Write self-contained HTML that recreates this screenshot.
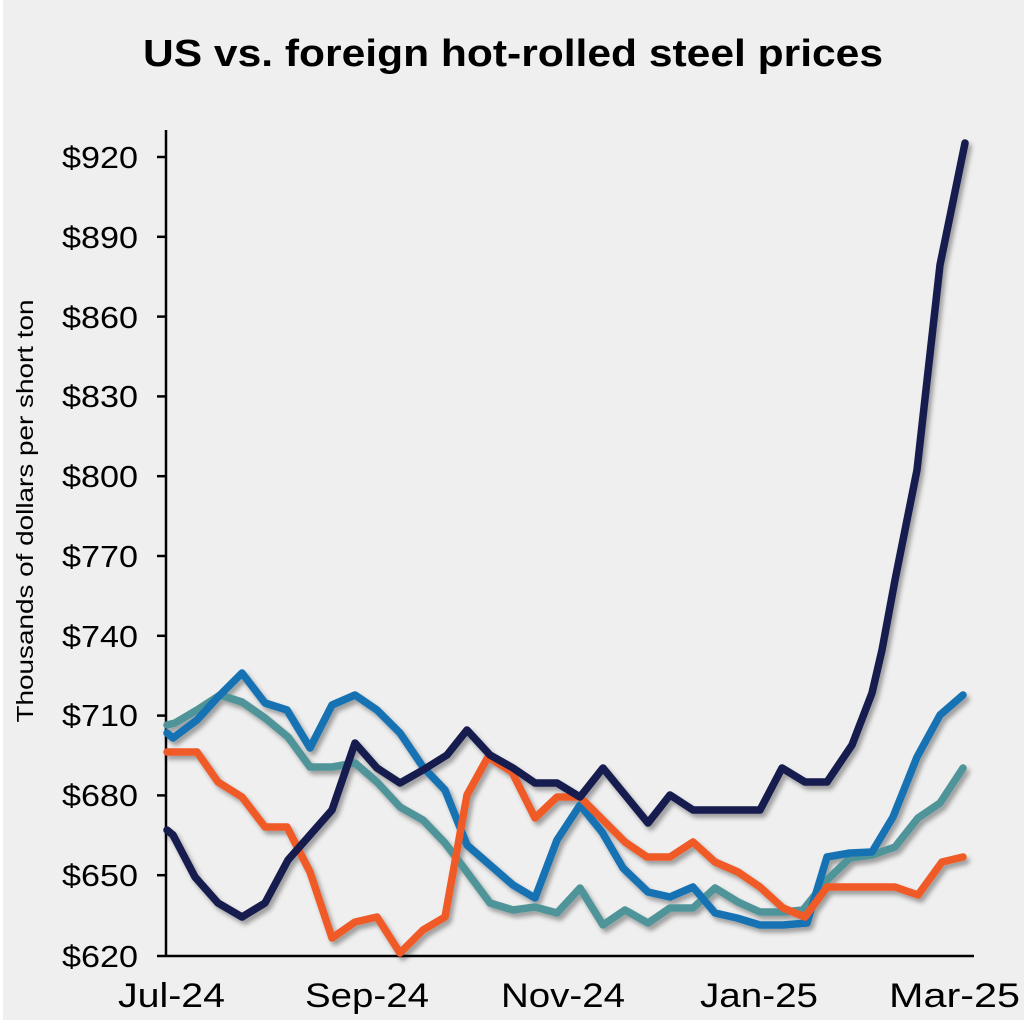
<!DOCTYPE html>
<html><head><meta charset="utf-8"><style>
html,body{margin:0;padding:0;background:#fff}
svg{display:block}
text{font-family:"Liberation Sans",Arial,sans-serif}
</style></head><body>
<svg width="1024" height="1024" viewBox="0 0 1024 1024">
<defs><filter id="sh" x="-10%" y="-10%" width="120%" height="120%"><feDropShadow dx="3" dy="4" stdDeviation="2.5" flood-color="#000" flood-opacity="0.35"/></filter></defs>
<rect x="3" y="0" width="1021" height="1020" fill="#efefef"/>
<text x="513" y="66" text-anchor="middle" font-size="38" font-weight="bold" fill="#000" textLength="740" lengthAdjust="spacingAndGlyphs">US vs. foreign hot-rolled steel prices</text>
<g stroke="#000" stroke-width="2.5">
<line x1="166" y1="130" x2="166" y2="956"/>
<line x1="157" y1="956" x2="974" y2="956"/>
<line x1="157" y1="157" x2="166" y2="157"/><line x1="157" y1="236.8" x2="166" y2="236.8"/>
<line x1="157" y1="316.6" x2="166" y2="316.6"/><line x1="157" y1="396.4" x2="166" y2="396.4"/>
<line x1="157" y1="476.2" x2="166" y2="476.2"/><line x1="157" y1="556" x2="166" y2="556"/>
<line x1="157" y1="635.8" x2="166" y2="635.8"/><line x1="157" y1="715.6" x2="166" y2="715.6"/>
<line x1="157" y1="795.4" x2="166" y2="795.4"/><line x1="157" y1="875.2" x2="166" y2="875.2"/>
</g>
<g font-size="31" text-anchor="end" fill="#000">
<text x="138" y="168" textLength="76" lengthAdjust="spacingAndGlyphs">$920</text>
<text x="138" y="248" textLength="76" lengthAdjust="spacingAndGlyphs">$890</text>
<text x="138" y="328" textLength="76" lengthAdjust="spacingAndGlyphs">$860</text>
<text x="138" y="407" textLength="76" lengthAdjust="spacingAndGlyphs">$830</text>
<text x="138" y="487" textLength="76" lengthAdjust="spacingAndGlyphs">$800</text>
<text x="138" y="567" textLength="76" lengthAdjust="spacingAndGlyphs">$770</text>
<text x="138" y="647" textLength="76" lengthAdjust="spacingAndGlyphs">$740</text>
<text x="138" y="726" textLength="76" lengthAdjust="spacingAndGlyphs">$710</text>
<text x="138" y="806" textLength="76" lengthAdjust="spacingAndGlyphs">$680</text>
<text x="138" y="886" textLength="76" lengthAdjust="spacingAndGlyphs">$650</text>
<text x="138" y="967" textLength="76" lengthAdjust="spacingAndGlyphs">$620</text>
</g>
<g font-size="34" fill="#000">
<text x="118" y="1007" textLength="107" lengthAdjust="spacingAndGlyphs">Jul-24</text>
<text x="305" y="1007" textLength="124" lengthAdjust="spacingAndGlyphs">Sep-24</text>
<text x="501" y="1007" textLength="124" lengthAdjust="spacingAndGlyphs">Nov-24</text>
<text x="700" y="1007" textLength="118" lengthAdjust="spacingAndGlyphs">Jan-25</text>
<text x="889" y="1007" textLength="131" lengthAdjust="spacingAndGlyphs">Mar-25</text>
</g>
<text transform="translate(33,511) rotate(-90)" text-anchor="middle" font-size="23" fill="#000" textLength="423" lengthAdjust="spacingAndGlyphs">Thousands of dollars per short ton</text>
<g fill="none" stroke-width="7.5" stroke-linejoin="round" stroke-linecap="round" filter="url(#sh)">
<polyline stroke="#4f9499" points="167,725 175,723 197,710 220,695 242,702 265,718 288,737 310,767 332,767 355,763 377,782 400,807 423,820 445,843 467,872 490,903 513,910 535,907 557,913 580,888 603,925 625,910 648,923 670,908 693,908 715,888 738,902 760,912 783,912 803,910 827,880 850,858 872,855 895,847 918,818 940,803 963,768"/>
<polyline stroke="#1272b3" points="167,733 173,738 197,720 218,697 242,673 265,703 287,710 310,748 332,705 355,695 377,710 400,733 423,767 445,790 467,845 490,865 513,885 535,898 557,840 580,805 602,832 623,868 648,892 670,897 693,887 715,913 737,918 760,925 783,925 807,923 827,857 850,853 872,852 893,817 917,757 940,715 963,695"/>
<polyline stroke="#ef5a28" points="167,752 197,752 218,782 242,797 265,827 287,827 310,872 332,938 355,922 377,917 400,953 423,930 445,917 467,795 488,757 512,772 535,818 557,797 580,797 603,820 625,842 647,857 670,857 693,842 715,862 738,872 760,887 783,908 805,917 827,887 850,887 895,887 918,895 942,862 963,857"/>
<polyline stroke="#141a4d" points="167,830 173,835 195,877 218,903 242,917 265,903 288,860 332,810 355,743 377,768 400,783 423,770 447,755 467,730 490,755 513,768 535,783 557,783 580,797 603,768 648,823 670,795 693,810 760,810 782,768 805,782 827,782 852,745 872,693 882,650 895,580 917,470 940,265 965,143"/>
</g>
</svg>
</body></html>
